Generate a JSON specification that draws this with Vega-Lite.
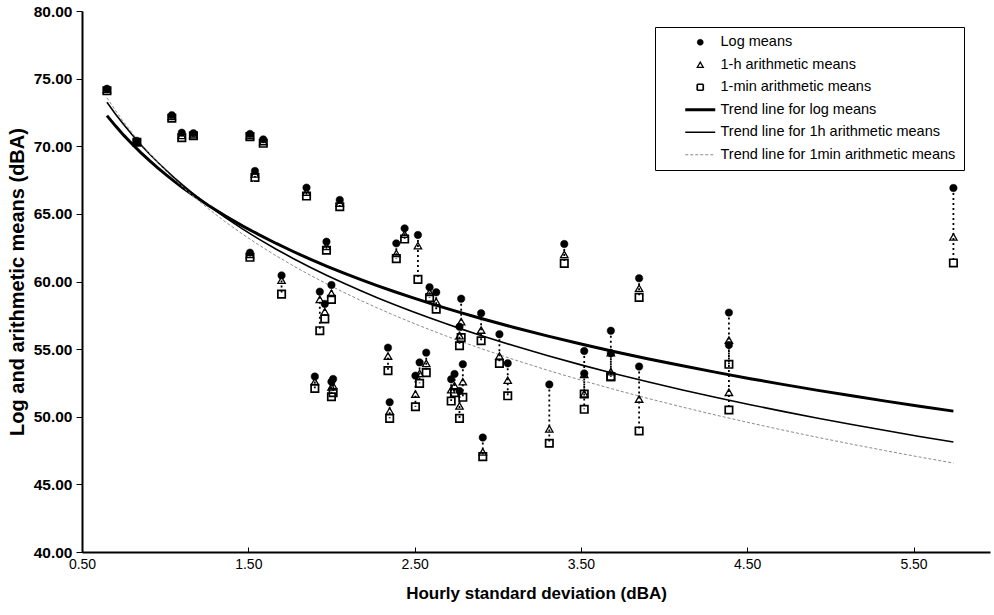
{
  "$schema": "https://vega.github.io/schema/vega-lite/v6.json",
  "width": 908,
  "height": 541,
  "autosize": "none",
  "padding": {"left": 82, "top": 11, "right": 4, "bottom": 63},
  "background": "white",
  "config": {
    "font": "Liberation Sans",
    "view": {"stroke": null},
    "axis": {"grid": false, "domainColor": "black", "domainWidth": 2, "tickColor": "black", "labelColor": "black", "titleColor": "black", "labelFont": "Liberation Sans", "titleFont": "Liberation Sans"}
  },
  "data": {
    "values": [
      {"sd": 0.65, "log": 74.25, "h1": 74.2, "m1": 74.1},
      {"sd": 0.83, "log": 70.4, "h1": 70.35, "m1": 70.3},
      {"sd": 1.04, "log": 72.3, "h1": 72.2, "m1": 72.07},
      {"sd": 1.10, "log": 71.0, "h1": 70.8, "m1": 70.63},
      {"sd": 1.17, "log": 70.96, "h1": 70.85, "m1": 70.78},
      {"sd": 1.51, "log": 70.91, "h1": 70.8, "m1": 70.71},
      {"sd": 1.51, "log": 62.13, "h1": 62.0, "m1": 61.79},
      {"sd": 1.54, "log": 68.17, "h1": 67.95, "m1": 67.7},
      {"sd": 1.59, "log": 70.51, "h1": 70.35, "m1": 70.22},
      {"sd": 1.70, "log": 60.45, "h1": 60.1, "m1": 59.07},
      {"sd": 1.85, "log": 66.94, "h1": 66.6, "m1": 66.32},
      {"sd": 1.90, "log": 52.97, "h1": 52.6, "m1": 52.1},
      {"sd": 1.93, "log": 59.25, "h1": 58.68, "m1": 56.36},
      {"sd": 1.96, "log": 58.34, "h1": 57.77, "m1": 57.23},
      {"sd": 1.97, "log": 62.94, "h1": 62.6, "m1": 62.31},
      {"sd": 2.00, "log": 59.74, "h1": 59.13, "m1": 58.68},
      {"sd": 2.00, "log": 52.59, "h1": 52.2, "m1": 51.48},
      {"sd": 2.01, "log": 52.79, "h1": 52.3, "m1": 51.78},
      {"sd": 2.05, "log": 66.03, "h1": 65.8, "m1": 65.53},
      {"sd": 2.34, "log": 55.11, "h1": 54.49, "m1": 53.41},
      {"sd": 2.35, "log": 51.07, "h1": 50.42, "m1": 49.88},
      {"sd": 2.39, "log": 62.82, "h1": 62.08, "m1": 61.69},
      {"sd": 2.44, "log": 63.93, "h1": 63.5, "m1": 63.14},
      {"sd": 2.505, "log": 53.04, "h1": 51.68, "m1": 50.74},
      {"sd": 2.52, "log": 63.44, "h1": 62.65, "m1": 60.16},
      {"sd": 2.53, "log": 54.02, "h1": 53.21, "m1": 52.47},
      {"sd": 2.57, "log": 54.74, "h1": 53.95, "m1": 53.26},
      {"sd": 2.59, "log": 59.57, "h1": 59.2, "m1": 58.8},
      {"sd": 2.63, "log": 59.2, "h1": 58.51, "m1": 57.95},
      {"sd": 2.72, "log": 52.77, "h1": 52.0, "m1": 51.16},
      {"sd": 2.74, "log": 53.16, "h1": 52.3, "m1": 51.78},
      {"sd": 2.77, "log": 51.9, "h1": 50.8, "m1": 49.88},
      {"sd": 2.78, "log": 58.73, "h1": 57.03, "m1": 55.85},
      {"sd": 2.77, "log": 56.66, "h1": 56.0, "m1": 55.25},
      {"sd": 2.79, "log": 53.88, "h1": 52.59, "m1": 51.44},
      {"sd": 2.90, "log": 57.65, "h1": 56.41, "m1": 55.62},
      {"sd": 2.91, "log": 48.46, "h1": 47.4, "m1": 47.05},
      {"sd": 3.01, "log": 56.1, "h1": 54.49, "m1": 53.95},
      {"sd": 3.06, "log": 53.95, "h1": 52.7, "m1": 51.55},
      {"sd": 3.31, "log": 52.39, "h1": 49.1, "m1": 48.04},
      {"sd": 3.40, "log": 62.77, "h1": 62.0, "m1": 61.34},
      {"sd": 3.52, "log": 54.86, "h1": 53.14, "m1": 51.68},
      {"sd": 3.52, "log": 53.2, "h1": 51.7, "m1": 50.55},
      {"sd": 3.68, "log": 56.36, "h1": 54.74, "m1": 52.96},
      {"sd": 3.68, "log": 54.7, "h1": 53.33, "m1": 52.96},
      {"sd": 3.85, "log": 60.24, "h1": 59.5, "m1": 58.83},
      {"sd": 3.85, "log": 53.71, "h1": 51.31, "m1": 48.95},
      {"sd": 4.39, "log": 57.7, "h1": 55.67, "m1": 53.88},
      {"sd": 4.39, "log": 55.3, "h1": 51.81, "m1": 50.5},
      {"sd": 5.74, "log": 66.91, "h1": 63.29, "m1": 61.37}
    ]
  },
  "layer": [
    {
      "mark": {"type": "rule", "strokeDash": [2, 3], "strokeWidth": 1.8, "color": "black"},
      "encoding": {
        "x": {"field": "sd", "type": "quantitative", "title": "Hourly standard deviation (dBA)",
          "scale": {"domain": [0.5, 5.96], "nice": false, "zero": false},
          "axis": {"values": [0.5, 1.5, 2.5, 3.5, 4.5, 5.5], "format": ".2f", "tickSize": -5, "labelFontSize": 14, "labelPadding": 10, "titleFontSize": 17, "titleFontWeight": "bold", "titlePadding": 14, "labelFlush": false}},
        "y": {"field": "log", "type": "quantitative", "title": "Log  and arithmetic means (dBA)",
          "scale": {"domain": [40, 80], "nice": false, "zero": false},
          "axis": {"values": [40, 45, 50, 55, 60, 65, 70, 75, 80], "format": ".2f", "tickSize": 6, "labelFontSize": 15.5, "labelFontWeight": "bold", "labelPadding": 4, "titleFontSize": 20, "titleFontWeight": "bold", "titlePadding": 6}},
        "y2": {"field": "m1"}
      }
    },
    {
      "transform": [{"regression": "log", "on": "sd", "method": "log"}],
      "mark": {"type": "line", "strokeWidth": 3, "color": "black"},
      "encoding": {
        "x": {"field": "sd", "type": "quantitative", "title": "Hourly standard deviation (dBA)"},
        "y": {"field": "log", "type": "quantitative", "title": "Log  and arithmetic means (dBA)"}
      }
    },
    {
      "transform": [{"regression": "h1", "on": "sd", "method": "log"}],
      "mark": {"type": "line", "strokeWidth": 1.6, "color": "black"},
      "encoding": {
        "x": {"field": "sd", "type": "quantitative", "title": "Hourly standard deviation (dBA)"},
        "y": {"field": "h1", "type": "quantitative", "title": "Log  and arithmetic means (dBA)"}
      }
    },
    {
      "transform": [{"regression": "m1", "on": "sd", "method": "log"}],
      "mark": {"type": "line", "strokeWidth": 1, "color": "#8a8a8a", "strokeDash": [3, 2]},
      "encoding": {
        "x": {"field": "sd", "type": "quantitative", "title": "Hourly standard deviation (dBA)"},
        "y": {"field": "m1", "type": "quantitative", "title": "Log  and arithmetic means (dBA)"}
      }
    },
    {
      "transform": [{"fold": ["log", "h1", "m1"], "as": ["series", "value"]}],
      "mark": {"type": "point", "filled": true, "size": 55, "opacity": 1},
      "encoding": {
        "x": {"field": "sd", "type": "quantitative", "title": "Hourly standard deviation (dBA)"},
        "y": {"field": "value", "type": "quantitative", "title": "Log  and arithmetic means (dBA)"},
        "shape": {"field": "series", "type": "nominal",
          "scale": {"domain": ["log", "h1", "m1", "tlog", "th1", "tm1"], "range": ["circle", "triangle-up", "square", "M-5,0H5", "M-5,0H5", "M-5,0H5"]},
          "legend": {"orient": "none", "legendX": 573, "legendY": 16, "title": null, "strokeColor": "black", "fillColor": "white", "padding": 8, "labelFontSize": 14.5, "labelFont": "Liberation Sans", "labelColor": "black", "symbolSize": 36, "labelOffset": 13, "symbolOffset": 30, "rowPadding": 7.5, "labelLimit": 500,
            "labelExpr": "datum.label == 'log' ? 'Log means' : datum.label == 'h1' ? '1-h arithmetic means' : datum.label == 'm1' ? '1-min arithmetic means' : datum.label == 'tlog' ? 'Trend line for log means' : datum.label == 'th1' ? 'Trend line for 1h arithmetic means' : 'Trend line for 1min arithmetic means\u00a0\u00a0\u00a0'"}},
        "fill": {"field": "series", "type": "nominal",
          "scale": {"domain": ["log", "h1", "m1", "tlog", "th1", "tm1"], "range": ["black", "transparent", "transparent", "transparent", "transparent", "transparent"]}},
        "stroke": {"field": "series", "type": "nominal",
          "scale": {"domain": ["log", "h1", "m1", "tlog", "th1", "tm1"], "range": ["black", "black", "black", "black", "black", "#8a8a8a"]}},
        "strokeWidth": {"field": "series", "type": "nominal",
          "scale": {"type": "ordinal", "domain": ["log", "h1", "m1", "tlog", "th1", "tm1"], "range": [0.5, 1.3, 1.7, 3, 1.6, 1]}},
        "strokeDash": {"field": "series", "type": "nominal",
          "scale": {"domain": ["log", "h1", "m1", "tlog", "th1", "tm1"], "range": [[1, 0], [1, 0], [1, 0], [1, 0], [1, 0], [3, 2]]}}
      }
    }
  ]
}
